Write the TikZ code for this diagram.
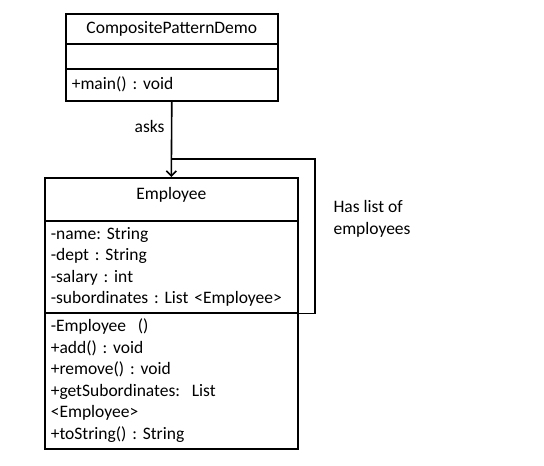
\documentclass[tikz,border=0pt]{standalone}
\usepackage{fontspec}
\setmainfont{Carlito}
\usetikzlibrary{positioning,arrows.meta}
\frenchspacing

\begin{document}
\begin{tikzpicture}[x=1pt,y=-1pt,
        umlpart/.style={draw, line width=1.6pt, anchor=north west, inner sep=0pt,
            font=\fontsize{17.5}{21.5}\selectfont},
        umllist/.style={umlpart, align=left, text width=#1, inner xsep=6pt},
        note/.style={font=\fontsize{17.5}{21.5}\selectfont, align=left}]

        \useasboundingbox (0,0) rectangle (544,466);

        % CompositePatternDemo class (name, empty attribute part, methods)
        \node[umlpart, minimum width=212pt, minimum height=30pt] (demoName) at (65,13) {CompositePatternDemo};
        \node[umlpart, minimum width=212pt, minimum height=25pt] (demoAttr) at (65,43) {};
        \node[umllist=200pt, minimum height=32pt] (demoMeth) at (65,68) {+main() : void};

        % Employee class
        \node[umlpart, minimum width=253pt, minimum height=43pt, text depth=12pt] (empName) at (44,177) {Employee};
        \node[umllist=241pt, minimum height=92pt] (empAttr) at (44,220)
            {-name: String\\-dept : String\\-salary : int\\-subordinates : List <Employee>};
        \node[umllist=241pt, minimum height=136pt] (empMeth) at (44,312)
            {-Employee \ ()\\+add() : void\\+remove() : void\\+getSubordinates: \ List\\<Employee>\\+toString() : String};

        % asks connector
        \draw[line width=1.6pt, -{Straight Barb[length=5pt,width=10pt]}] (demoMeth.south) -- node[note, left=3pt, pos=0.33] {asks} (empName.north);

        % self association loop
        \coordinate (loopJoin) at (demoMeth.south |- 0,159);
        \coordinate (loopCorner) at (315,159);
        \draw[line width=1.6pt] (loopJoin) -- (loopCorner) |- (empAttr.south east);
        \node[note, anchor=west] (hasList) at (330,219) {Has list of\\employees};

    \end{tikzpicture}
\end{document}
